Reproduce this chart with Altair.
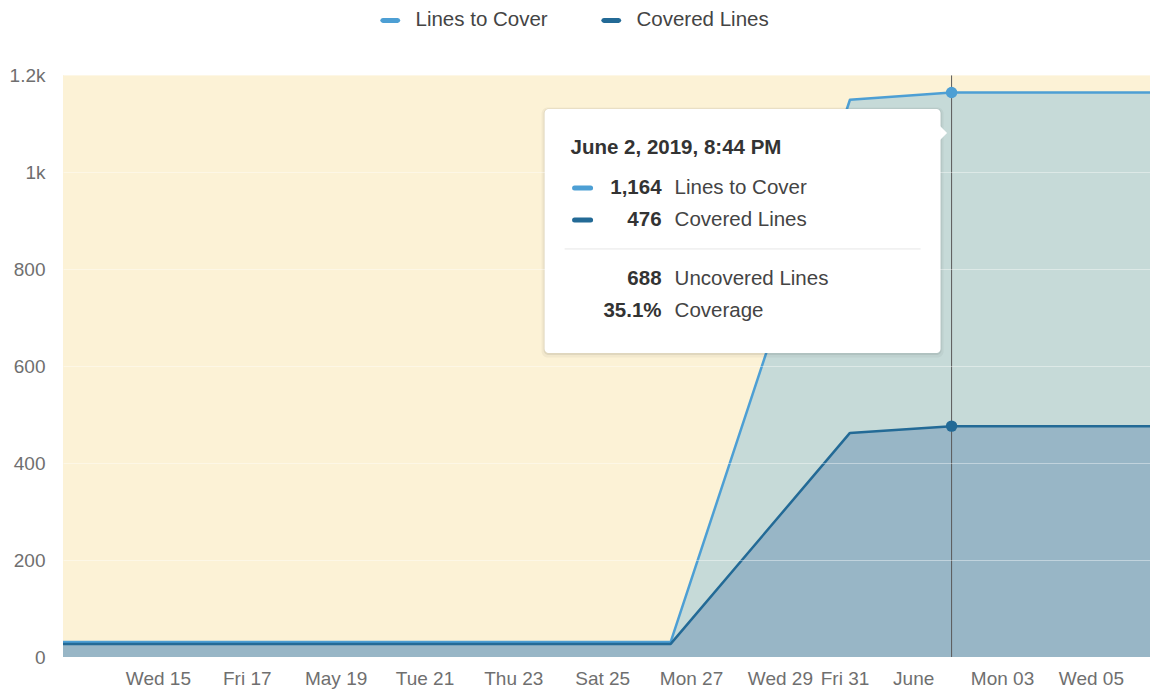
import altair as alt
import pandas as pd

FONT = "Liberation Sans"

# ---------------- data ----------------
times = [
    "2019-05-12T20:44",
    "2019-05-26T13:00",
    "2019-05-30T13:50",
    "2019-06-01T20:44",
    "2019-06-02T19:00",
    "2019-06-06T07:55",
]
lines_to_cover = [31, 31, 1149, 1164, 1164, 1164]
covered_lines = [27, 27, 462, 476, 476, 476]

series_names = ["Lines to Cover", "Covered Lines"]
series_colors = ["#4d9fd4", "#236a96"]

hover_time = "2019-06-01T20:44"
hover_values = [1164, 476]

tooltip_title = "June 2, 2019, 8:44 PM"
tooltip_values = ["1,164", "476", "688", "35.1%"]
tooltip_labels = ["Lines to Cover", "Covered Lines", "Uncovered Lines", "Coverage"]

x_tick_days = [(5, 15), (5, 17), (5, 19), (5, 21), (5, 23), (5, 25), (5, 27),
               (5, 29), (5, 31), (6, 1), (6, 3), (6, 5)]
y_ticks = [0, 200, 400, 600, 800, 1000, 1200]

# ---------------- frames ----------------
df = pd.DataFrame({"t": times, "ltc": lines_to_cover, "cov": covered_lines})
hover_df = pd.DataFrame({"t": [hover_time], "ltc": [hover_values[0]]})
points_df = pd.DataFrame({"t": [hover_time] * 2, "series": series_names, "value": hover_values})

x_axis = alt.Axis(
    values=[alt.DateTime(year=2019, month=m, date=d) for m, d in x_tick_days],
    labelExpr=("date(datum.value) == 1 ? timeFormat(datum.value, '%B') : "
               "(day(datum.value) == 0 ? timeFormat(datum.value, '%b %d') : "
               "timeFormat(datum.value, '%a %d'))"),
    labelAlign={"condition": {"test": "date(datum.value) == 31", "value": "right"}, "value": "center"},
    labelOverlap=False,
    labelBound=False,
    labelFont=FONT,
    labelFontSize=19,
    labelColor="#6f6f6f",
    labelPadding=12,
    domain=False,
    ticks=False,
    grid=False,
    title=None,
)
x_scale = alt.Scale(domain=[alt.DateTime(year=2019, month=5, date=12, hours=20, minutes=44),
                            alt.DateTime(year=2019, month=6, date=6, hours=7, minutes=55)])

y_axis = alt.Axis(
    values=y_ticks,
    labelExpr="datum.value >= 1000 ? format(datum.value / 1000, '~g') + 'k' : format(datum.value, 'd')",
    labelFont=FONT,
    labelFontSize=19,
    labelColor="#6f6f6f",
    labelPadding=18,
    domain=False,
    ticks=False,
    grid=True,
    gridColor="#ffffff",
    gridOpacity=0.4,
    gridWidth=1,
    title=None,
    zindex=1,
)
y_scale = alt.Scale(domain=[0, 1200], nice=False, zero=True)


def X(field="t"):
    return alt.X(f"{field}:T", scale=x_scale, axis=x_axis)


def Y(field):
    return alt.Y(f"{field}:Q", scale=y_scale, axis=y_axis)


base = alt.Chart(df)
area_total = base.mark_area(color="#c6dad8", opacity=1).encode(x=X(), y=Y("ltc"))
area_cov = base.mark_area(color="#98b6c6", opacity=1).encode(x=X(), y=Y("cov"))
line_total = base.mark_line(color=series_colors[0], strokeWidth=2.5, strokeJoin="round").encode(x=X(), y=Y("ltc"))
line_cov = base.mark_line(color=series_colors[1], strokeWidth=2.5, strokeJoin="round").encode(x=X(), y=Y("cov"))

hover_rule = alt.Chart(hover_df).mark_rule(color="#5a5a5a", strokeWidth=1).encode(x=X())

legend_symbol = ("M-0.75,-0.25L0.75,-0.25L0.93,-0.17L1,0L0.93,0.17L0.75,0.25"
                 "L-0.75,0.25L-0.93,0.17L-1,0L-0.93,-0.17Z")
points = alt.Chart(points_df).mark_circle(size=130, opacity=1).encode(
    x=X(),
    y=Y("value"),
    color=alt.Color(
        "series:N",
        scale=alt.Scale(domain=series_names, range=series_colors),
        legend=alt.Legend(
            title=None,
            orient="none",
            legendX=317,
            legendY=-65,
            direction="horizontal",
            columns=2,
            symbolType=legend_symbol,
            symbolSize=400,
            symbolStrokeWidth=0,
            symbolOpacity=1,
            labelFont=FONT,
            labelFontSize=20.5,
            labelColor="#444444",
            labelOffset=15,
            columnPadding=53,
            padding=0,
            labelLimit=400,
        ),
    ),
)

# ---------------- tooltip overlay (anchored to the hovered point) ----------------
tip = alt.Chart(hover_df)
tip_enc = dict(x=X(), y=Y("ltc"))
tip_enc2 = dict(x=X(), x2=alt.X2("t"), y=Y("ltc"), y2=alt.Y2("ltc"))

shadow2 = tip.mark_rect(fill="#000000", opacity=0.04, cornerRadius=6,
                        xOffset=-410, x2Offset=-8, yOffset=15, y2Offset=265).encode(**tip_enc2)
shadow1 = tip.mark_rect(fill="#000000", opacity=0.07, cornerRadius=5,
                        xOffset=-408, x2Offset=-10, yOffset=16, y2Offset=262.5).encode(**tip_enc2)
box = tip.mark_rect(fill="#ffffff", opacity=1, cornerRadius=4,
                    xOffset=-407, x2Offset=-11, yOffset=16.5, y2Offset=260.5).encode(**tip_enc2)
arrow = tip.mark_point(shape="M0,-1L1,0L0,1Z", size=196, filled=True, color="#ffffff",
                       opacity=1, strokeWidth=0, xOffset=-11.5, yOffset=40.5).encode(**tip_enc)
title_txt = tip.mark_text(align="left", baseline="middle", dx=-381, dy=55.5, font=FONT,
                          fontSize=20.5, fontWeight="bold", color="#333333").encode(
    text=alt.value(tooltip_title), **tip_enc)
separator = tip.mark_rule(color="#e6e6e6", strokeWidth=1, xOffset=-387, x2Offset=-31,
                          yOffset=156.5).encode(x=X(), x2=alt.X2("t"), y=Y("ltc"))

row_dy = [95.5, 127.5, 186.5, 218.5]
tip_layers = [shadow2, shadow1, box, arrow, title_txt, separator]
for i, (val, lab) in enumerate(zip(tooltip_values, tooltip_labels)):
    tip_layers.append(
        tip.mark_text(align="right", baseline="middle", dx=-290, dy=row_dy[i], font=FONT,
                      fontSize=20.5, fontWeight="bold", color="#333333").encode(
            text=alt.value(val), **tip_enc))
    tip_layers.append(
        tip.mark_text(align="left", baseline="middle", dx=-277, dy=row_dy[i], font=FONT,
                      fontSize=20.5, color="#444444").encode(
            text=alt.value(lab), **tip_enc))
    if i < 2:
        tip_layers.append(
            tip.mark_rule(color=series_colors[i], strokeWidth=5, strokeCap="round",
                          xOffset=-377, x2Offset=-361, yOffset=row_dy[i]).encode(
                x=X(), x2=alt.X2("t"), y=Y("ltc")))

chart = alt.layer(
    area_total, area_cov, line_total, line_cov, hover_rule, points, *tip_layers
).properties(
    width=1087,
    height=582,
    autosize=alt.AutoSizeParams(type="none"),
    padding={"left": 55, "top": 67, "right": 0, "bottom": 32},
).configure(
    background="#ffffff",
    view=alt.ViewConfig(strokeWidth=0, stroke=None, fill="#fcf2d6"),
)

chart.save("out.html", embed_options={"renderer": "svg", "actions": False})
